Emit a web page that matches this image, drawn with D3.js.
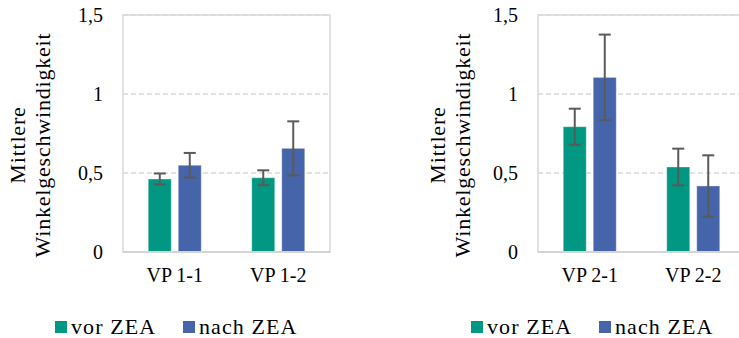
<!DOCTYPE html>
<html>
<head>
<meta charset="utf-8">
<script src="https://cdn.jsdelivr.net/npm/d3@7"></script>
<style>
  html, body { margin: 0; padding: 0; background: #fff; }
  svg { display: block; }
</style>
</head>
<body>
<svg id="chart" width="739" height="338"></svg>
<script>
// Mean angular velocity before/after, per test subject, with error bars
const seriesNames = ["vor ZEA", "nach ZEA"];
const seriesColors = ["#009882", "#4664AA"];

const categories1 = ["VP 1-1", "VP 1-2"];
const vorMean1 = [0.462, 0.470];
const vorErr1 = [0.035, 0.047];
const nachMean1 = [0.549, 0.656];
const nachErr1 = [0.078, 0.171];

const categories2 = ["VP 2-1", "VP 2-2"];
const vorMean2 = [0.793, 0.538];
const vorErr2 = [0.114, 0.116];
const nachMean2 = [1.105, 0.418];
const nachErr2 = [0.271, 0.194];

const yTicks = [0, 0.5, 1, 1.5];
const yTickLabels = ["0", "0,5", "1", "1,5"];
const yTitleLines = ["Mittlere", "Winkelgeschwindigkeit"];

const FONT = "'Times New Roman', Tinos, Times, serif";

const svg = d3.select("#chart");

function drawPanel(opt) {
  const g = svg.append("g");
  const y = d3.scaleLinear().domain([0, 1.5]).range([252, 15]);
  const x0 = d3.scaleBand().domain(opt.categories).range([opt.left, opt.left + 207]);

  // plot frame
  g.append("rect")
    .attr("x", opt.left).attr("y", y(1.5))
    .attr("width", 207).attr("height", y(0) - y(1.5))
    .attr("fill", "none").attr("stroke", "#d9d9d9").attr("stroke-width", 1.5);

  // dashed gridlines
  g.selectAll(".grid").data(yTicks.filter(t => t > 0)).join("line")
    .attr("x1", opt.left).attr("x2", opt.left + 207)
    .attr("y1", d => y(d)).attr("y2", d => y(d))
    .attr("stroke", "#d9d9d9").attr("stroke-width", 1.5)
    .attr("stroke-dasharray", "5,3");

  // y tick labels
  const yAxis = d3.axisLeft(y).tickValues(yTicks)
    .tickFormat((d, i) => yTickLabels[i]).tickSize(0).tickPadding(20);
  const ya = g.append("g").attr("transform", `translate(${opt.left},0)`).call(yAxis);
  ya.attr("font-family", null).attr("font-size", null);
  ya.select(".domain").remove();
  ya.selectAll("text").style("font-family", FONT).style("font-size", "20px").attr("fill", "#000");

  // category axis labels
  const xAxis = d3.axisBottom(x0).tickSize(0).tickPadding(16);
  const xa = g.append("g").attr("transform", `translate(0,${y(0)})`).call(xAxis);
  xa.attr("font-family", null).attr("font-size", null);
  xa.select(".domain").remove();
  xa.selectAll("text").style("font-family", FONT).style("font-size", "20px").attr("fill", "#000");

  const rows = opt.categories.map((c, i) => ({
    cat: c,
    vals: [
      { s: seriesNames[0], m: opt.vor[i], e: opt.vorErr[i] },
      { s: seriesNames[1], m: opt.nach[i], e: opt.nachErr[i] }
    ]
  }));

  const groupW = 53;
  const x1 = d3.scaleBand().domain(seriesNames).range([0, groupW]).paddingInner(7 / 30);
  const color = d3.scaleOrdinal().domain(seriesNames).range(seriesColors);

  const grp = g.selectAll(".grp").data(rows).join("g")
    .attr("transform", d => `translate(${x0(d.cat) + x0.bandwidth() / 2 - groupW / 2},0)`);

  grp.selectAll("rect").data(d => d.vals).join("rect")
    .attr("x", d => x1(d.s)).attr("width", x1.bandwidth())
    .attr("y", d => y(d.m)).attr("height", d => y(0) - y(d.m))
    .attr("fill", d => color(d.s))
    .attr("stroke", "rgba(255,255,255,0.35)").attr("stroke-width", 1);

  // error bars
  const eb = grp.selectAll(".eb").data(d => d.vals).join("g")
    .attr("transform", d => `translate(${x1(d.s) + x1.bandwidth() / 2},0)`);
  eb.append("line")
    .attr("x1", 0).attr("x2", 0)
    .attr("y1", d => y(d.m + d.e)).attr("y2", d => y(d.m - d.e))
    .attr("stroke", "#5a5a5a").attr("stroke-width", 2);
  eb.selectAll(".cap").data(d => [d.m + d.e, d.m - d.e]).join("line")
    .attr("x1", -6).attr("x2", 6)
    .attr("y1", v => y(v)).attr("y2", v => y(v))
    .attr("stroke", "#5a5a5a").attr("stroke-width", 2);

  // baseline
  g.append("line")
    .attr("x1", opt.left).attr("x2", opt.left + 207)
    .attr("y1", y(0)).attr("y2", y(0))
    .attr("stroke", "#d4d4d4").attr("stroke-width", 2);

  // y axis title (two lines, rotated)
  const cy = 145;
  yTitleLines.forEach((line, i) => {
    g.append("text")
      .attr("transform", `translate(${opt.titleX + i * 25},${cy}) rotate(-90)`)
      .attr("text-anchor", "middle")
      .style("font-family", FONT)
      .style("font-size", "22px")
      .style("letter-spacing", "0.8px")
      .text(line);
  });

  // legend
  const leg = g.selectAll(".leg").data(seriesNames).join("g")
    .attr("transform", (d, i) => `translate(${opt.legendX[i]},321)`);
  leg.append("rect").attr("width", 12).attr("height", 12).attr("fill", d => color(d));
  leg.append("text")
    .attr("x", 16).attr("y", 13)
    .style("font-family", FONT).style("font-size", "22px")
    .style("letter-spacing", "1.1px").text(d => d);
}

drawPanel({
  categories: categories1, vor: vorMean1, vorErr: vorErr1, nach: nachMean1, nachErr: nachErr1,
  left: 123, titleX: 25, legendX: [55, 183]
});
drawPanel({
  categories: categories2, vor: vorMean2, vorErr: vorErr2, nach: nachMean2, nachErr: nachErr2,
  left: 538, titleX: 445, legendX: [471, 599]
});
</script>
</body>
</html>
